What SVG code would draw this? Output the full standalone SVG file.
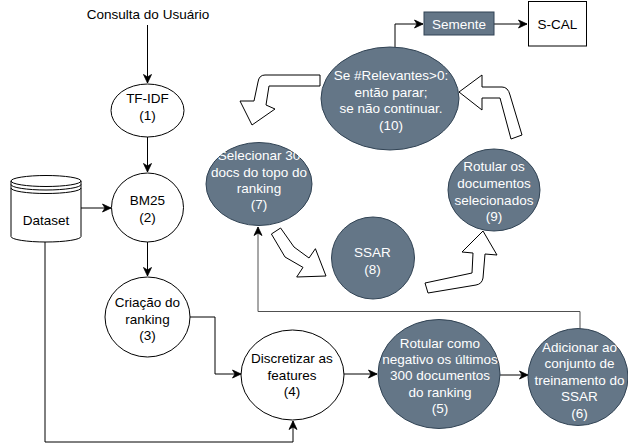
<svg xmlns="http://www.w3.org/2000/svg" width="628" height="446" viewBox="0 0 628 446">
<style>
  text { font-family: "Liberation Sans", Arial, Helvetica, sans-serif; font-size: 13.5px; text-anchor: middle; }
  .w { fill: #ffffff; stroke: #000000; stroke-width: 1; }
  .s { fill: #647687; stroke: #314354; stroke-width: 1; }
  .tw { fill: #ffffff; }
  .tb { fill: #000000; }
  .edge { fill: none; stroke: #000000; stroke-width: 1; }
  .edge-g { fill: none; stroke: #505050; stroke-width: 1; }
  .flex { fill: #ffffff; stroke: #000000; stroke-width: 1; stroke-linejoin: miter; }
</style>
<defs>
  <marker id="arr" markerUnits="userSpaceOnUse" markerWidth="12" markerHeight="12" refX="9" refY="5" orient="auto">
    <path d="M0.5,1 L9,5 L0.5,9 L3,5 Z" fill="#000000" stroke="#000000" stroke-width="0.8"/>
  </marker>
</defs>
<rect x="0" y="0" width="628" height="446" fill="#ffffff"/>

<g id="connectors">
  <path class="edge" d="M147.5,25 L147.5,83" marker-end="url(#arr)"/>
  <path class="edge" d="M147.5,137 L147.5,172" marker-end="url(#arr)"/>
  <path class="edge" d="M81,208 L111,208" marker-end="url(#arr)"/>
  <path class="edge" d="M147.5,242 L147.5,276" marker-end="url(#arr)"/>
  <path class="edge" d="M190,317 L215,317 L215,374 L241,374" marker-end="url(#arr)"/>
  <path class="edge" d="M45,242 L45,442 L293,442 L293,421" marker-end="url(#arr)"/>
  <path class="edge" d="M344,374 L377,374" marker-end="url(#arr)"/>
  <path class="edge" d="M500,375 L528,375" marker-end="url(#arr)"/>
  <path class="edge-g" d="M580,329 L580,311.5 L258,311.5 L258,227" marker-end="url(#arr)"/>
  <path class="edge" d="M395,47 L395,24 L423,24" marker-end="url(#arr)"/>
  <path class="edge" d="M494,24 L527,24" stroke-width="1.3" marker-end="url(#arr)"/>
  <!-- flex arrows -->
  <path class="flex" d="M320,75 L265,75 Q259,75 258,82 L254,101 L240,101 L252,125 L275,109 L266,105 L269,86 L320,86 Z"/>
  <path class="flex" d="M280.6,228 L294,247 L309,258 L315.4,248.7 L326,276 L296.7,277 L303,267.4 L285,257 L271.4,234 Z"/>
  <path class="flex" d="M425,283 L472,273 L473,253 L462,252 L483,231 L497,255 L485,254 L483,278 Q482,284 476,285 L428,293 Z"/>
  <path class="flex" d="M482,75 L482,87 L502,87 Q508,87 510,95 L522,135 L511,139 L500,98 L482,98 L482,110 L459,92 Z"/>
</g>

<g id="consulta">
  <text class="tb" x="148" y="18.5">Consulta do Usuário</text>
</g>

<g id="tfidf">
  <ellipse class="w" cx="147.5" cy="110.5" rx="36.5" ry="26.5"/>
  <text class="tb" x="147.5" y="103">TF-IDF</text>
  <text class="tb" x="147.5" y="119.5">(1)</text>
</g>

<g id="bm25">
  <ellipse class="w" cx="147.5" cy="207.5" rx="36" ry="34.5"/>
  <text class="tb" x="147.5" y="205">BM25</text>
  <text class="tb" x="147.5" y="221.5">(2)</text>
</g>

<g id="dataset">
  <path class="w" d="M11,181 A35,5.5 0 0 1 81,181 L81,236.5 A35,5.5 0 0 1 11,236.5 Z"/>
  <path class="edge" d="M11,181 A35,5.5 0 0 0 81,181 M11,184.5 A35,5.5 0 0 0 81,184.5 M11,188 A35,5.5 0 0 0 81,188"/>
  <text class="tb" x="46" y="225">Dataset</text>
</g>

<g id="criacao">
  <ellipse class="w" cx="147.5" cy="317" rx="42.5" ry="40"/>
  <text class="tb" x="147.5" y="307">Criação do</text>
  <text class="tb" x="147.5" y="323.5">ranking</text>
  <text class="tb" x="147.5" y="340">(3)</text>
</g>

<g id="discretizar">
  <ellipse class="w" cx="292.5" cy="375" rx="51.5" ry="45"/>
  <text class="tb" x="292" y="363">Discretizar as</text>
  <text class="tb" x="292" y="379.5">features</text>
  <text class="tb" x="292" y="396">(4)</text>
</g>

<g id="rotular-negativo">
  <ellipse class="s" cx="439" cy="374" rx="61" ry="54.5"/>
  <text class="tw" x="440" y="348">Rotular como</text>
  <text class="tw" x="440" y="364">negativo os últimos</text>
  <text class="tw" x="440" y="380">300 documentos</text>
  <text class="tw" x="440" y="396.5">do ranking</text>
  <text class="tw" x="440" y="413">(5)</text>
</g>

<g id="adicionar">
  <ellipse class="s" cx="578" cy="377" rx="50" ry="48.5"/>
  <text class="tw" x="579.5" y="352">Adicionar ao</text>
  <text class="tw" x="579.5" y="368">conjunto de</text>
  <text class="tw" x="579.5" y="384.5">treinamento do</text>
  <text class="tw" x="579.5" y="401">SSAR</text>
  <text class="tw" x="579.5" y="417.5">(6)</text>
</g>

<g id="selecionar">
  <ellipse class="s" cx="259" cy="184" rx="53" ry="41.5"/>
  <text class="tw" x="259" y="160">Selecionar 30</text>
  <text class="tw" x="259" y="176.5">docs do topo do</text>
  <text class="tw" x="259" y="192.5">ranking</text>
  <text class="tw" x="259" y="209">(7)</text>
</g>

<g id="ssar">
  <ellipse class="s" cx="373" cy="258" rx="41.5" ry="41"/>
  <text class="tw" x="372.5" y="257">SSAR</text>
  <text class="tw" x="372.5" y="274">(8)</text>
</g>

<g id="rotular-selecionados">
  <ellipse class="s" cx="494" cy="190" rx="46" ry="41"/>
  <text class="tw" x="494" y="171">Rotular os</text>
  <text class="tw" x="494" y="188">documentos</text>
  <text class="tw" x="494" y="204.5">selecionados</text>
  <text class="tw" x="494" y="221">(9)</text>
</g>

<g id="se-relevantes">
  <ellipse class="s" cx="390" cy="98.5" rx="69" ry="51.5"/>
  <text class="tw" x="391" y="80">Se #Relevantes&gt;0:</text>
  <text class="tw" x="391" y="97">então parar;</text>
  <text class="tw" x="391" y="113">se não continuar.</text>
  <text class="tw" x="391" y="129.5">(10)</text>
</g>

<g id="semente">
  <rect class="s" x="424" y="12" width="70" height="23"/>
  <text class="tw" x="459" y="28.5">Semente</text>
</g>

<g id="scal">
  <rect class="w" x="528.5" y="1.5" width="58" height="44.5"/>
  <text class="tb" x="557.5" y="28.5">S-CAL</text>
</g>
</svg>
